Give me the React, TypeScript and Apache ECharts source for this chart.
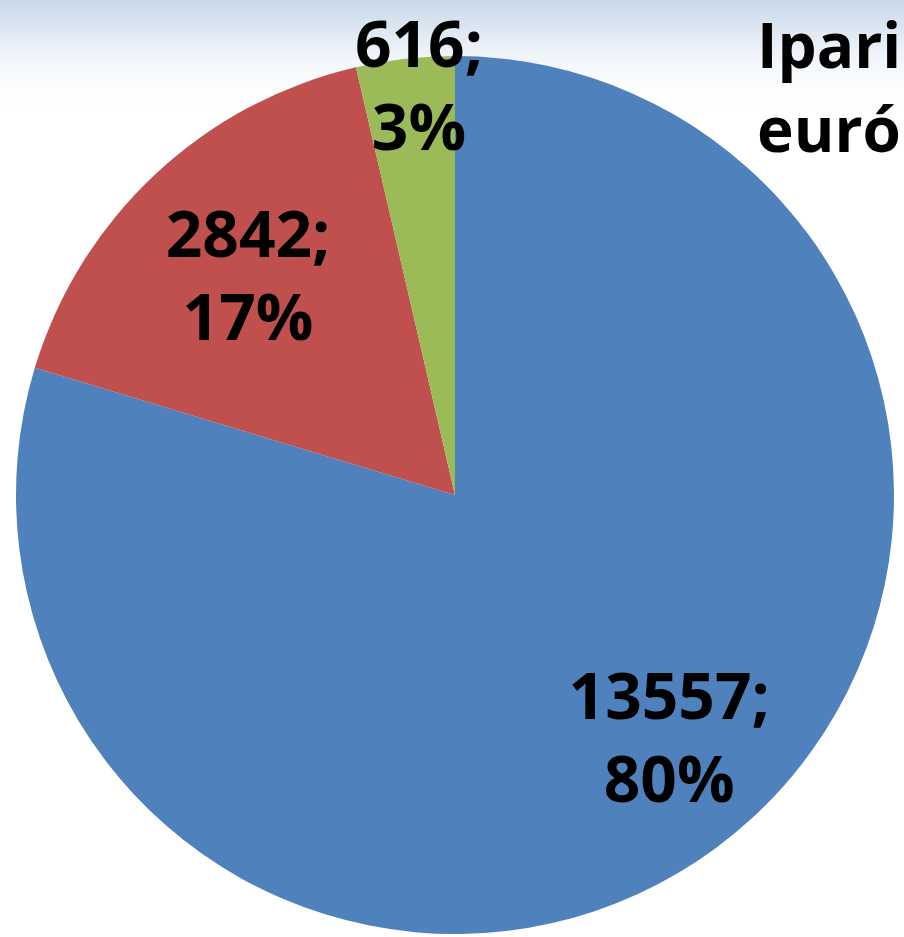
import React, { useEffect, useRef } from "react";
import * as echarts from "echarts";

const categories = ["A", "B", "C"];
const values = [13557, 2842, 616];
const percentLabels = [80, 17, 3];
const colors = ["#4F81BD", "#C0504D", "#9BBB59"];
const titleLines = ["Ipari", "euró"];

const W = 904;
const H = 937;
const CX = 455;
const CY = 495;
const R = 439;
// radial distance of each label centre, as fraction of radius
const labelRadiusFrac = [0.735, 0.69, 0.94];
const labelAngleShift = [-5, 0, 1.5]; // degrees

export default function App() {
  const ref = useRef<HTMLDivElement>(null);
  useEffect(() => {
    if (!ref.current) return;
    const chart = echarts.init(ref.current, null, { renderer: "svg", width: W, height: H });
    const font = "'Open Sans', 'DejaVu Sans', sans-serif";
    chart.setOption({
      animation: false,
      backgroundColor: "#ffffff",
      graphic: [
        {
          type: "rect",
          z: 0,
          shape: { x: 0, y: 0, width: W, height: 110 },
          style: {
            fill: new echarts.graphic.LinearGradient(0, 0, 0, 1, [
              { offset: 0, color: "#c9d8ea" },
              { offset: 0.35, color: "#e4ecf5" },
              { offset: 1, color: "rgba(255,255,255,0)" },
            ]),
          },
        },
        {
          type: "text",
          z: 100,
          left: 757,
          top: 2,
          style: {
            text: titleLines.join("\n"),
            fontFamily: font,
            fontWeight: "bold",
            fontSize: 62,
            lineHeight: 84,
            fill: "#000000",
          },
        },
      ],
      series: [
        {
          type: "pie",
          center: [CX, CY],
          radius: R,
          startAngle: 90,
          clockwise: true,
          z: 5,
          itemStyle: { borderWidth: 0 },
          label: {
            show: true,
            position: "inside",
            color: "#000000",
            fontFamily: font,
            fontWeight: "bold",
            fontSize: 64,
            lineHeight: 83,
            formatter: (p: any) => `${p.value};\n${percentLabels[p.dataIndex]}%`,
          },
          labelLine: { show: false },
          labelLayout: (params: any) => {
            const i = params.dataIndex;
            const r = params.labelRect;
            const lx = r.x + r.width / 2;
            const ly = r.y + r.height / 2;
            const dx = lx - CX;
            const dy = ly - CY;
            const ang = Math.atan2(dy, dx) + (labelAngleShift[i] * Math.PI) / 180;
            const d = labelRadiusFrac[i] * R;
            return {
              x: CX + d * Math.cos(ang),
              y: CY + d * Math.sin(ang),
              align: "center",
              verticalAlign: "middle",
            };
          },
          data: categories.map((c, i) => ({
            name: c,
            value: values[i],
            itemStyle: { color: colors[i] },
          })),
        },
      ],
    });
    return () => chart.dispose();
  }, []);
  return (
    <div
      ref={ref}
      style={{ position: "fixed", left: 0, top: 0, width: W, height: H }}
    />
  );
}
